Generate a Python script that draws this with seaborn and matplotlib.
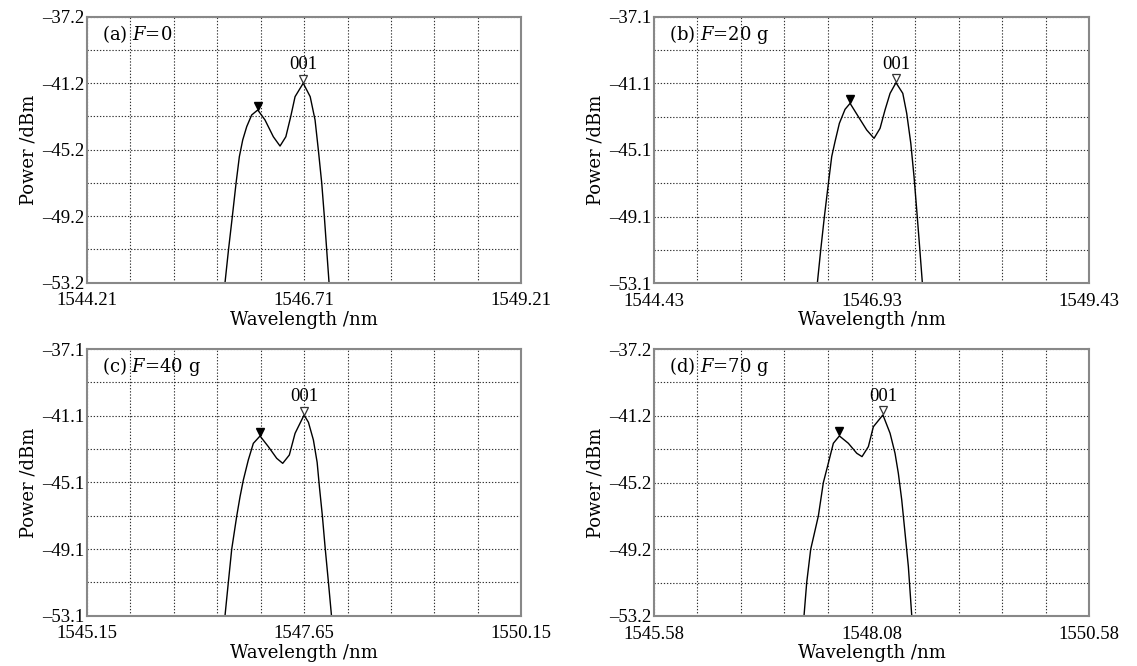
import numpy as np
import pandas as pd
import seaborn as sns
import matplotlib
matplotlib.use("Agg")
import matplotlib.pyplot as plt
from matplotlib import transforms
from matplotlib.ticker import FixedLocator

# ---------------- data ----------------
panel_labels = ["(a) ", "(b) ", "(c) ", "(d) "]
force_labels = ["=0", "=20 g", "=40 g", "=70 g"]
x_starts = [1544.21, 1544.43, 1545.15, 1545.58]
y_tops = [-37.2, -37.1, -37.1, -37.2]

wl_a = [1545.80, 1545.84, 1545.884, 1545.927, 1545.965, 1546.004, 1546.05, 1546.107, 1546.177,
        1546.26, 1546.356, 1546.433, 1546.50, 1546.556, 1546.606, 1546.70, 1546.78, 1546.836,
        1546.874, 1546.913, 1546.943, 1546.97, 1546.997]
pw_a = [-53.2, -51.23, -49.23, -47.22, -45.62, -44.61, -43.81, -43.11, -42.81,
        -43.41, -44.42, -44.98, -44.42, -43.21, -42.01, -41.2, -42.01, -43.41,
        -45.22, -47.22, -49.23, -51.23, -53.2]

wl_b = [1546.307, 1546.346, 1546.388, 1546.434, 1546.472, 1546.51, 1546.56, 1546.625, 1546.683,
        1546.778, 1546.874, 1546.958, 1547.027, 1547.084, 1547.142, 1547.21, 1547.288, 1547.333,
        1547.38, 1547.417, 1547.448, 1547.478, 1547.513]
pw_b = [-53.1, -51.10, -49.10, -47.10, -45.50, -44.60, -43.50, -42.66, -42.30,
        -43.10, -43.90, -44.40, -43.80, -42.70, -41.70, -41.06, -41.70, -42.90,
        -44.70, -46.70, -48.70, -50.70, -53.1]

wl_c = [1546.74, 1546.778, 1546.817, 1546.875, 1546.913, 1546.951, 1547.008, 1547.066, 1547.143,
        1547.239, 1547.335, 1547.404, 1547.48, 1547.546, 1547.65, 1547.70, 1547.757, 1547.80,
        1547.826, 1547.86, 1547.891, 1547.93, 1547.965]
pw_c = [-53.1, -51.12, -49.12, -47.12, -45.96, -44.96, -43.76, -42.76, -42.32,
        -42.96, -43.66, -43.96, -43.46, -42.16, -41.06, -41.5, -42.56, -43.9,
        -45.36, -47.1, -48.96, -51.1, -53.1]

wl_d = [1547.304, 1547.335, 1547.381, 1547.419, 1547.469, 1547.526, 1547.583, 1547.641, 1547.71,
        1547.813, 1547.91, 1547.97, 1548.043, 1548.10, 1548.21, 1548.292, 1548.349, 1548.387,
        1548.426, 1548.464, 1548.502, 1548.541]
pw_d = [-53.2, -51.20, -49.20, -48.34, -47.20, -45.21, -44.05, -42.85, -42.41,
        -42.85, -43.45, -43.65, -43.05, -41.86, -41.15, -42.25, -43.45, -44.65,
        -46.25, -48.24, -50.24, -53.2]

marker1_wl = [1546.177, 1546.683, 1547.143, 1547.71]
marker1_pw = [-42.81, -42.30, -42.32, -42.41]
marker2_wl = [1546.70, 1547.21, 1547.65, 1548.21]
marker2_pw = [-41.2, -41.06, -41.06, -41.15]
marker_text = "001"

curves = [(wl_a, pw_a), (wl_b, pw_b), (wl_c, pw_c), (wl_d, pw_d)]

# ---------------- style ----------------
sns.set_theme(style="white")
plt.rcParams['font.family'] = ['Liberation Serif', 'DejaVu Serif']
plt.rcParams['mathtext.fontset'] = 'custom'
plt.rcParams['mathtext.it'] = 'DejaVu Serif:italic'
plt.rcParams['mathtext.rm'] = 'DejaVu Serif'
for k in ['text.color', 'axes.labelcolor', 'xtick.color', 'ytick.color']:
    plt.rcParams[k] = 'black'

W, H = 1137, 666
fig = plt.figure(figsize=(W / 100, H / 100), dpi=100)
fig.patch.set_facecolor("white")

boxes = [(86.8, 16.7, 521.4, 282.7), (653.8, 16.7, 1089.4, 283.3),
         (86.8, 349.0, 521.4, 615.7), (653.8, 349.0, 1089.4, 616.0)]

TICK_FS = 13.5
LAB_FS = 13
LAB_FAMILY = ['DejaVu Serif']
for i, (x0, y0, x1, y1) in enumerate(boxes):
    ax = fig.add_axes([x0 / W, 1 - y1 / H, (x1 - x0) / W, (y1 - y0) / H])
    xs = x_starts[i]
    yt = y_tops[i]
    ax.set_xlim(xs, xs + 5.0)
    ax.set_ylim(yt - 16.0, yt)

    wl, pw = curves[i]
    df = pd.DataFrame({"Wavelength": wl, "Power": pw})
    sns.lineplot(data=df, x="Wavelength", y="Power", ax=ax, color="black",
                 lw=1.0, estimator=None, sort=False)

    off = transforms.offset_copy(ax.transData, fig=fig, x=0, y=3.2, units='points')
    ax.plot([marker1_wl[i]], [marker1_pw[i]], marker='v', ms=5.5, color='black',
            transform=off, zorder=5)
    ax.plot([marker2_wl[i]], [marker2_pw[i]], marker='v', ms=6, mfc='white',
            mec='#333333', mew=0.9, transform=off, zorder=5)
    ax.annotate(marker_text, (marker2_wl[i], marker2_pw[i]), xytext=(0, 7),
                textcoords='offset points', ha='center', va='bottom', fontsize=TICK_FS)

    ax.text(0.035, 0.935, panel_labels[i] + r"$F$" + force_labels[i], transform=ax.transAxes,
            ha='left', va='center', fontsize=LAB_FS, family=LAB_FAMILY)

    xt = [xs, xs + 2.5, xs + 5.0]
    ax.xaxis.set_major_locator(FixedLocator(xt))
    ax.set_xticklabels([f"{v:.2f}" for v in xt])
    ax.xaxis.set_minor_locator(FixedLocator([xs + 0.5 * k for k in range(11)]))
    yt_list = [yt - 16 + 4 * k for k in range(5)]
    ax.yaxis.set_major_locator(FixedLocator(yt_list))
    ax.set_yticklabels([f"\u2013{abs(v):.1f}" for v in yt_list])
    ax.yaxis.set_minor_locator(FixedLocator([yt - 2 * k for k in range(9)]))

    ax.grid(True, which='both', color='#333333', linestyle=(0, (1.2, 1.6)), lw=0.8)
    ax.tick_params(axis='both', which='major', direction='in', length=6, width=0.8,
                   color='#555555', labelsize=TICK_FS, pad=2)
    ax.tick_params(axis='x', which='major', pad=7)
    ax.tick_params(axis='both', which='minor', length=0)
    for s in ax.spines.values():
        s.set_color('#888888')
        s.set_linewidth(1.5)

    ax.set_xlabel("Wavelength /nm", fontsize=LAB_FS, labelpad=1, family=LAB_FAMILY)
    ax.set_ylabel("Power /dBm", fontsize=LAB_FS, labelpad=3, family=LAB_FAMILY)

fig.savefig("out.png", dpi=100, facecolor="white")
